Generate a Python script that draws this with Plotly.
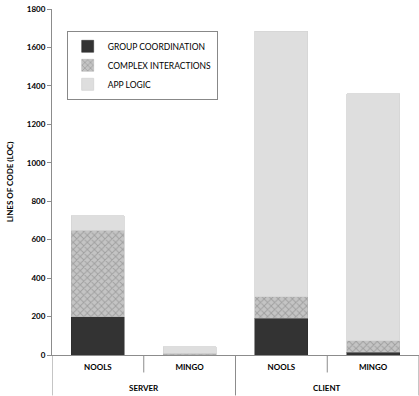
import plotly.graph_objects as go

groups = ["SERVER", "CLIENT"]
libs = ["NOOLS", "MINGO", "NOOLS", "MINGO"]
group_coord = [200, 2, 190, 15]
complex_inter = [450, 8, 114, 59]
app_logic = [75, 32, 1381, 1286]
y_ticks = [0, 200, 400, 600, 800, 1000, 1200, 1400, 1600, 1800]

FONT = "Lato"
AX = "#8c8c8c"
pos = list(range(len(libs)))

fig = go.Figure()
fig.add_trace(go.Bar(x=pos, y=group_coord, name="GROUP COORDINATION",
                     marker=dict(color="#333333", line=dict(color="#2a2a2a", width=0.5))))
fig.add_trace(go.Bar(x=pos, y=complex_inter, name="COMPLEX INTERACTIONS",
                     marker=dict(color="#bdbdbd", line=dict(color="#b0b0b0", width=0.5),
                                 pattern=dict(shape="x", size=5, fgcolor="#7c7c7c",
                                              bgcolor="#c4c4c4", solidity=0.35))))
fig.add_trace(go.Bar(x=pos, y=app_logic, name="APP LOGIC",
                     marker=dict(color="#dedede", line=dict(color="#d4d4d4", width=0.8))))

# category boundary ticks and group dividers below the axis
plot_h = 396 - 9 - 40.5
short = -(373 - 355.5) / plot_h
long_ = -(396 - 355.5) / plot_h
for b in [0.5, 2.5]:
    fig.add_shape(type="line", xref="x", yref="paper", x0=b, x1=b, y0=0, y1=short,
                  line=dict(color=AX, width=1))
for b in [-0.5, 1.5, 3.5]:
    fig.add_shape(type="line", xref="x", yref="paper", x0=b, x1=b, y0=0, y1=long_,
                  line=dict(color=AX, width=1))
for i, g in enumerate(groups):
    fig.add_annotation(x=2 * i + 0.5, xref="x", y=-(389 - 355.5) / plot_h, yref="paper",
                       text=g, showarrow=False, yanchor="middle",
                       font=dict(family=FONT, size=8, color="#000", weight="bold"))

fig.update_layout(
    width=419, height=396,
    barmode="stack", bargap=0.42,
    plot_bgcolor="white", paper_bgcolor="white",
    margin=dict(l=52, r=0, t=9, b=40.5),
    font=dict(family=FONT, color="#000000", size=8),
    showlegend=True,
    legend=dict(x=0.04, y=0.937, xanchor="left", yanchor="top",
                traceorder="normal", bordercolor="#888888", borderwidth=1,
                bgcolor="white", font=dict(size=8.5, family=FONT),
                itemwidth=30, tracegroupgap=0),
    xaxis=dict(range=[-0.5, 3.5], tickvals=pos, ticktext=libs, automargin=False,
               showline=True, linecolor=AX, linewidth=1, showgrid=False, zeroline=False,
               ticks="", ticklabelstandoff=4,
               tickfont=dict(family=FONT, size=8, color="#000", weight="bold")),
    yaxis=dict(range=[0, 1800], tickvals=y_ticks, showgrid=False, zeroline=False,
               automargin=False,
               showline=True, linecolor=AX, linewidth=1,
               ticks="outside", ticklen=4, tickcolor=AX,
               tickfont=dict(family=FONT, size=8, color="#000", weight="bold"),
               title=dict(text="LINES OF CODE (LOC)", standoff=12,
                          font=dict(family=FONT, size=8, color="#000", weight="bold"))),
)

fig.write_html("out.html", config={"displayModeBar": False},
               post_script="document.body.style.margin='0px';")
